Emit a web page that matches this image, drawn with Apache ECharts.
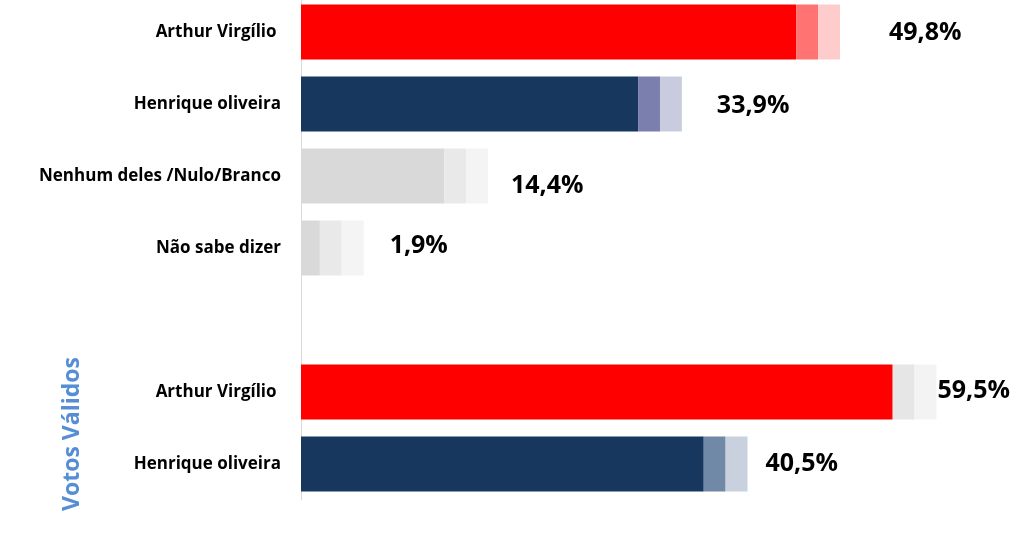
<!DOCTYPE html>
<html>
<head>
<meta charset="utf-8">
<script src="https://cdn.jsdelivr.net/npm/echarts@6/dist/echarts.min.js"></script>
<style>
  html, body { margin: 0; padding: 0; background: #fff; overflow: hidden; }
  #chart { width: 1024px; height: 546px; margin-top: -4px; }
</style>
</head>
<body>
<div id="chart"></div>
<script>
const categories = [
  'Arthur Virgílio ',
  'Henrique oliveira',
  'Nenhum deles /Nulo/Branco',
  'Não sabe dizer',
  '',
  'Arthur Virgílio ',
  'Henrique oliveira',
]
const values = [49.8, 33.9, 14.4, 1.9, null, 59.5, 40.5]
const marginLow = [2.2, 2.2, 2.2, 2.2, null, 2.2, 2.2]
const marginHigh = [2.2, 2.2, 2.2, 2.2, null, 2.2, 2.2]

const MAIN_COLORS = ['#ff0000', '#17375e', '#d9d9d9', '#d9d9d9', null, '#ff0000', '#17375e']
const LOW_COLORS = ['#ff7373', '#7b7fae', '#e9e9e9', '#e9e9e9', null, '#e6e6e6', '#6f89a6']
const HIGH_COLORS = ['#ffcccc', '#c9cbde', '#f4f4f4', '#f4f4f4', null, '#f3f3f3', '#c8d1dd']
// label gap from bar end and vertical nudge, as in the source
const LABEL_OFFSETS = [[49, 1], [35, 2], [23, 10], [26, -2], [0, 0], [1, -1], [18, 0]]

const FONT = '"Open Sans", Lato, sans-serif'

function fmt(v) {
  return v.toFixed(1).replace('.', ',') + '%'
}

function colored(arr, colors) {
  return arr.map((v, i) => ({ value: v, itemStyle: { color: colors[i] } }))
}

const chart = echarts.init(document.getElementById('chart'))
chart.setOption({
  backgroundColor: '#fff',
  animation: false,
  grid: { left: 301, top: 0, width: 716, height: 504 },
  xAxis: {
    type: 'value',
    min: 0,
    max: 72,
    show: false,
  },
  yAxis: {
    type: 'category',
    inverse: true,
    data: categories,
    axisLine: { show: true, lineStyle: { color: '#d9d9d9', width: 1 } },
    axisTick: { show: false },
    axisLabel: {
      margin: 20,
      color: '#000',
      fontFamily: FONT,
      fontWeight: 'bold',
      fontSize: 17,
    },
  },
  series: [
    {
      type: 'bar',
      stack: 'v',
      barWidth: 55,
      data: colored(values, MAIN_COLORS),
    },
    {
      type: 'bar',
      stack: 'v',
      barWidth: 55,
      data: colored(marginLow, LOW_COLORS),
    },
    {
      type: 'bar',
      stack: 'v',
      barWidth: 55,
      data: marginHigh.map((v, i) => ({
        value: v,
        itemStyle: { color: HIGH_COLORS[i] },
        label: {
          show: v != null,
          position: 'right',
          distance: LABEL_OFFSETS[i][0],
          offset: [0, LABEL_OFFSETS[i][1]],
          formatter: () => fmt(values[i]),
          color: '#000',
          fontFamily: FONT,
          fontWeight: 'bold',
          fontSize: 25,
        },
      })),
    },
  ],
  graphic: [
    {
      type: 'text',
      x: 72,
      y: 438,
      rotation: Math.PI / 2,
      style: {
        text: 'Votos Válidos',
        fill: '#558ed5',
        font: 'bold 23px ' + FONT,
        textAlign: 'center',
        textVerticalAlign: 'middle',
      },
    },
  ],
})
</script>
</body>
</html>
